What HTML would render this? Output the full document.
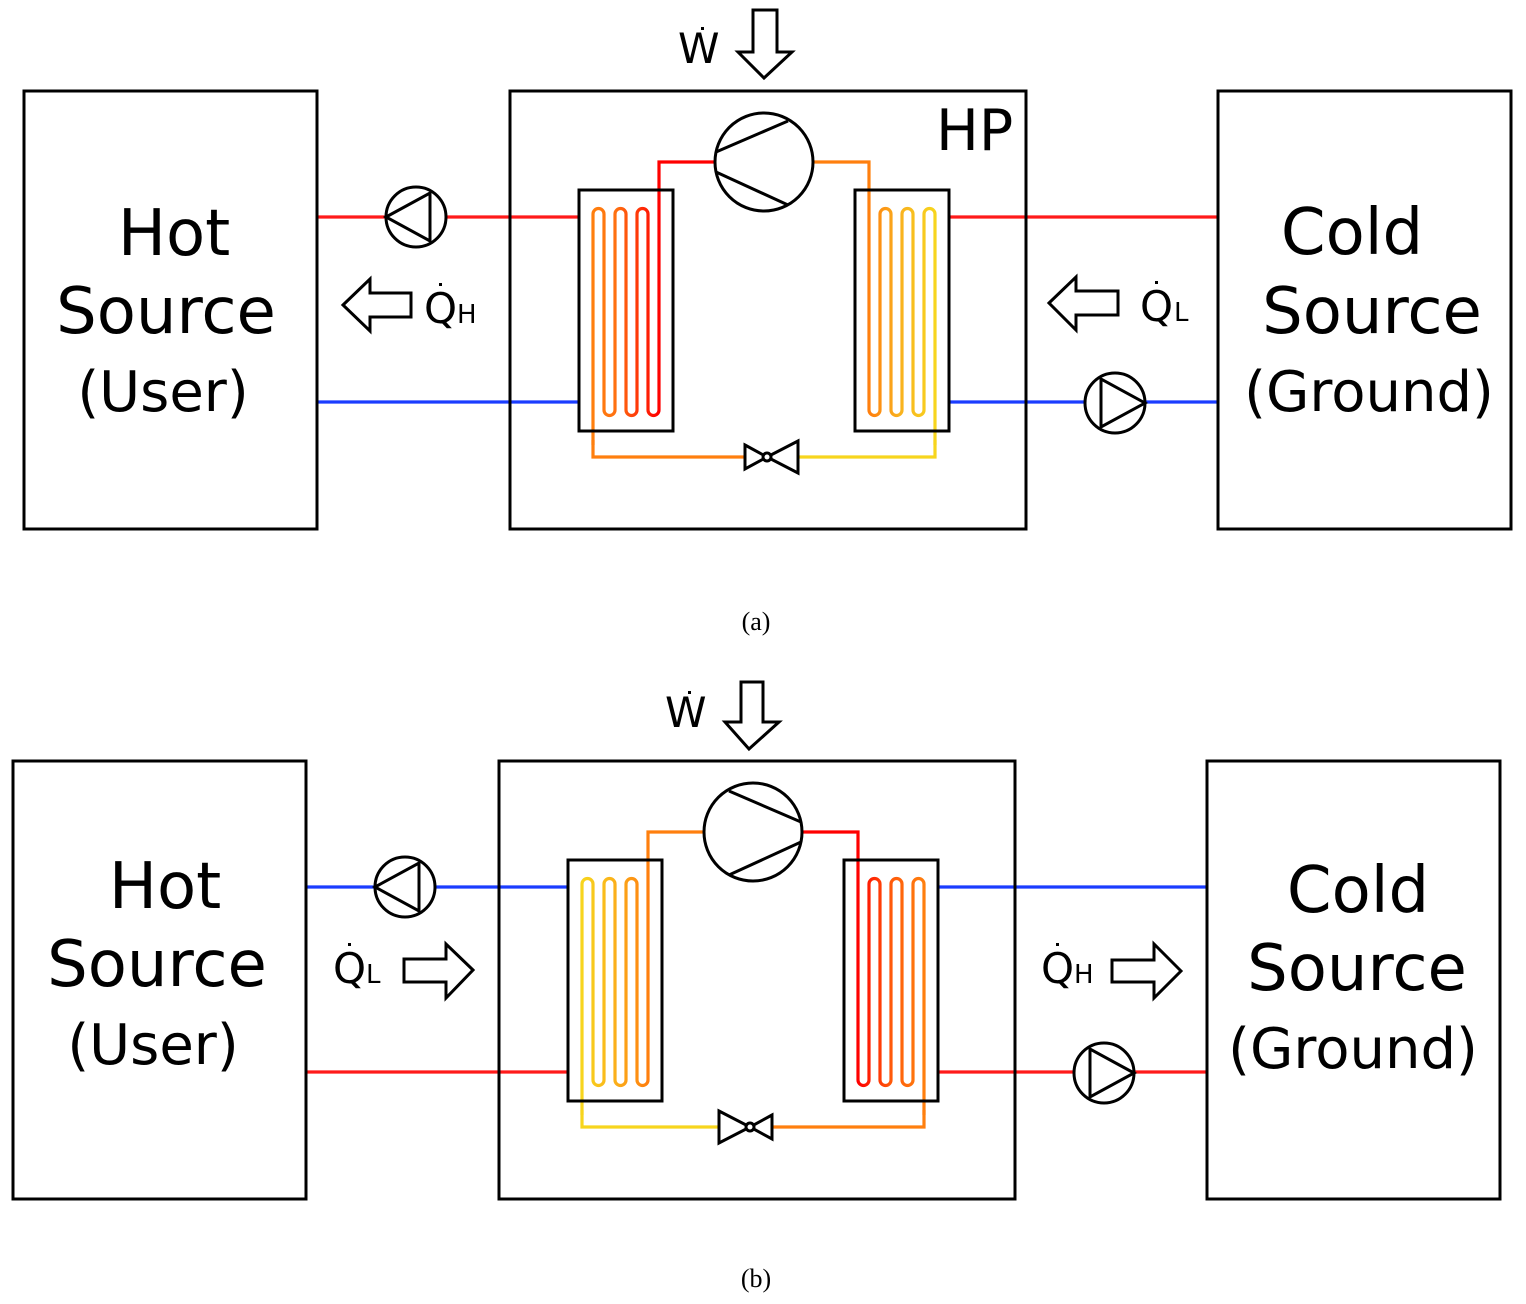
<!DOCTYPE html>
<html><head><meta charset="utf-8"><style>
html,body{margin:0;padding:0;background:#fff;}
svg{display:block;}
.s{font-family:"DejaVu Sans","Liberation Sans",sans-serif;fill:#000;}
</style></head><body>
<svg width="1526" height="1304" viewBox="0 0 1526 1304" xmlns="http://www.w3.org/2000/svg">
<defs>
<linearGradient id="gAL" gradientUnits="userSpaceOnUse" x1="593" y1="0" x2="659" y2="0"><stop offset="0" stop-color="#ff7f0e"/><stop offset="0.35" stop-color="#ff7010"/><stop offset="1" stop-color="#ff0000"/></linearGradient>
<linearGradient id="gAR" gradientUnits="userSpaceOnUse" x1="869" y1="0" x2="935" y2="0"><stop offset="0" stop-color="#ff7f0e"/><stop offset="0.45" stop-color="#f9b01e"/><stop offset="1" stop-color="#f7d51d"/></linearGradient>
<linearGradient id="gBL" gradientUnits="userSpaceOnUse" x1="593" y1="0" x2="659" y2="0"><stop offset="0" stop-color="#f7d51d"/><stop offset="0.5" stop-color="#fbb01a"/><stop offset="1" stop-color="#ff7f0e"/></linearGradient>
<linearGradient id="gBR" gradientUnits="userSpaceOnUse" x1="869" y1="0" x2="935" y2="0"><stop offset="0" stop-color="#ff0000"/><stop offset="0.5" stop-color="#ff5a0a"/><stop offset="1" stop-color="#ff7f0e"/></linearGradient>
</defs>

<!-- ============ PANEL A ============ -->
<g>
<g fill="none" stroke-width="3.2">
<line x1="317" y1="217" x2="579" y2="217" stroke="#ff1a1a"/>
<line x1="949" y1="217" x2="1218" y2="217" stroke="#ff1a1a"/>
<line x1="317" y1="402" x2="579" y2="402" stroke="#1a3cff"/>
<line x1="949" y1="402" x2="1218" y2="402" stroke="#1a3cff"/>
<path d="M745,457 H593 V440" stroke="#ff7f0e"/>
<path d="M593,445 V214 A5.5,5.5 0 0 1 604,214 V410 A5.5,5.5 0 0 0 615,410 V214 A5.5,5.5 0 0 1 626,214 V410 A5.5,5.5 0 0 0 637,410 V214 A5.5,5.5 0 0 1 648,214 V410 A5.5,5.5 0 0 0 659,410 V162 H715" stroke="url(#gAL)"/>
<path d="M813,162 H869 V410 A5.5,5.5 0 0 0 880,410 V214 A5.5,5.5 0 0 1 891,214 V410 A5.5,5.5 0 0 0 902,410 V214 A5.5,5.5 0 0 1 913,214 V410 A5.5,5.5 0 0 0 924,410 V214 A5.5,5.5 0 0 1 935,214 V445" stroke="url(#gAR)"/>
<path d="M935,440 V457 H797" stroke="#f7d51d"/>
</g>
<g fill="none" stroke="#000" stroke-width="3">
<rect x="24" y="91" width="293" height="438"/>
<rect x="510" y="91" width="516" height="438"/>
<rect x="1218" y="91" width="293" height="438"/>
<rect x="579" y="190" width="94" height="241"/>
<rect x="855" y="190" width="94" height="241"/>
<circle cx="764" cy="162" r="49" fill="#fff"/>
<line x1="716" y1="152" x2="788" y2="121"/>
<line x1="716" y1="172" x2="788" y2="205"/>
<path d="M745,445 L767,457 L745,469 Z M798,441 L767,457 L798,473 Z" fill="#fff"/>
<circle cx="767" cy="457" r="4" fill="#fff"/>
<circle cx="416" cy="217" r="30" fill="#fff"/>
<path d="M386,217 L430,193 L430,241 Z"/>
<circle cx="1115" cy="403" r="30" fill="#fff"/>
<path d="M1145,403 L1101,379 L1101,427 Z"/>
<path d="M343,305 L370,279 L370,293 L411,293 L411,317 L370,317 L370,331 Z" fill="#fff"/>
<path d="M1049,303 L1076,277 L1076,291 L1118,291 L1118,315 L1076,315 L1076,330 Z" fill="#fff"/>
<path d="M753,10 L777,10 L777,52 L792,52 L764,78 L738,52 L753,52 Z" fill="#fff"/>
</g>
<text class="s" x="174" y="255" font-size="64" text-anchor="middle">Hot</text>
<text class="s" x="166" y="333" font-size="64" text-anchor="middle">Source</text>
<text class="s" x="163" y="411" font-size="56" text-anchor="middle">(User)</text>
<text class="s" x="1352" y="254" font-size="64" text-anchor="middle">Cold</text>
<text class="s" x="1372" y="333" font-size="64" text-anchor="middle">Source</text>
<text class="s" x="1369" y="411" font-size="56" text-anchor="middle">(Ground)</text>
<text class="s" x="936" y="150" font-size="57">HP</text>
<text class="s" x="678" y="63" font-size="42">W</text><rect x="701" y="27" width="3" height="3"/>
<text class="s" x="424" y="323" font-size="42">Q</text><rect x="439" y="283" width="3" height="3"/><text class="s" x="457" y="323" font-size="26">H</text>
<text class="s" x="1140" y="321" font-size="42">Q</text><rect x="1155" y="281" width="3" height="3"/><text class="s" x="1174" y="321" font-size="26">L</text>
<text x="756" y="630" font-size="26" text-anchor="middle" font-family="Liberation Serif, serif">(a)</text>
</g>

<!-- ============ PANEL B ============ -->
<g transform="translate(-11,670)">
<g fill="none" stroke-width="3.2">
<line x1="317" y1="217" x2="579" y2="217" stroke="#1a3cff"/>
<line x1="949" y1="217" x2="1218" y2="217" stroke="#1a3cff"/>
<line x1="317" y1="402" x2="579" y2="402" stroke="#ff1a1a"/>
<line x1="949" y1="402" x2="1218" y2="402" stroke="#ff1a1a"/>
<path d="M745,457 H593 V440" stroke="#f7d51d"/>
<path d="M593,445 V214 A5.5,5.5 0 0 1 604,214 V410 A5.5,5.5 0 0 0 615,410 V214 A5.5,5.5 0 0 1 626,214 V410 A5.5,5.5 0 0 0 637,410 V214 A5.5,5.5 0 0 1 648,214 V410 A5.5,5.5 0 0 0 659,410 V162 H715" stroke="url(#gBL)"/>
<path d="M813,162 H869 V410 A5.5,5.5 0 0 0 880,410 V214 A5.5,5.5 0 0 1 891,214 V410 A5.5,5.5 0 0 0 902,410 V214 A5.5,5.5 0 0 1 913,214 V410 A5.5,5.5 0 0 0 924,410 V214 A5.5,5.5 0 0 1 935,214 V445" stroke="url(#gBR)"/>
<path d="M935,440 V457 H780" stroke="#ff7f0e"/>
</g>
<g fill="none" stroke="#000" stroke-width="3">
<rect x="24" y="91" width="293" height="438"/>
<rect x="510" y="91" width="516" height="438"/>
<rect x="1218" y="91" width="293" height="438"/>
<rect x="579" y="190" width="94" height="241"/>
<rect x="855" y="190" width="94" height="241"/>
<circle cx="764" cy="162" r="49" fill="#fff"/>
<line x1="812" y1="152" x2="740" y2="121"/>
<line x1="812" y1="172" x2="740" y2="205"/>
<path d="M783,445 L761,457 L783,469 Z M730,441 L761,457 L730,473 Z" fill="#fff"/>
<circle cx="761" cy="457" r="4" fill="#fff"/>
<circle cx="416" cy="217" r="30" fill="#fff"/>
<path d="M386,217 L430,193 L430,241 Z"/>
<circle cx="1115" cy="403" r="30" fill="#fff"/>
<path d="M1145,403 L1101,379 L1101,427 Z"/>
<path d="M484,300 L457,274 L457,289 L415,289 L415,312 L457,312 L457,328 Z" fill="#fff"/>
<path d="M1192,301 L1165,274 L1165,290 L1123,290 L1123,312 L1165,312 L1165,328 Z" fill="#fff"/>
<path d="M752,12 L774,12 L774,52 L790,52 L760,79 L736,52 L752,52 Z" fill="#fff"/>
</g>
<text class="s" x="176" y="238" font-size="64" text-anchor="middle">Hot</text>
<text class="s" x="168" y="316" font-size="64" text-anchor="middle">Source</text>
<text class="s" x="164" y="394" font-size="56" text-anchor="middle">(User)</text>
<text class="s" x="1369" y="242" font-size="64" text-anchor="middle">Cold</text>
<text class="s" x="1368" y="320" font-size="64" text-anchor="middle">Source</text>
<text class="s" x="1364" y="398" font-size="56" text-anchor="middle">(Ground)</text>
<text class="s" x="676" y="57" font-size="42">W</text><rect x="699" y="21" width="3" height="3"/>
<text class="s" x="344" y="313" font-size="42">Q</text><rect x="359" y="273" width="3" height="3"/><text class="s" x="377" y="313" font-size="26">L</text>
<text class="s" x="1052" y="313" font-size="42">Q</text><rect x="1067" y="273" width="3" height="3"/><text class="s" x="1085" y="313" font-size="26">H</text>
<text x="767" y="617" font-size="26" text-anchor="middle" font-family="Liberation Serif, serif">(b)</text>
</g>
</svg>
</body></html>
